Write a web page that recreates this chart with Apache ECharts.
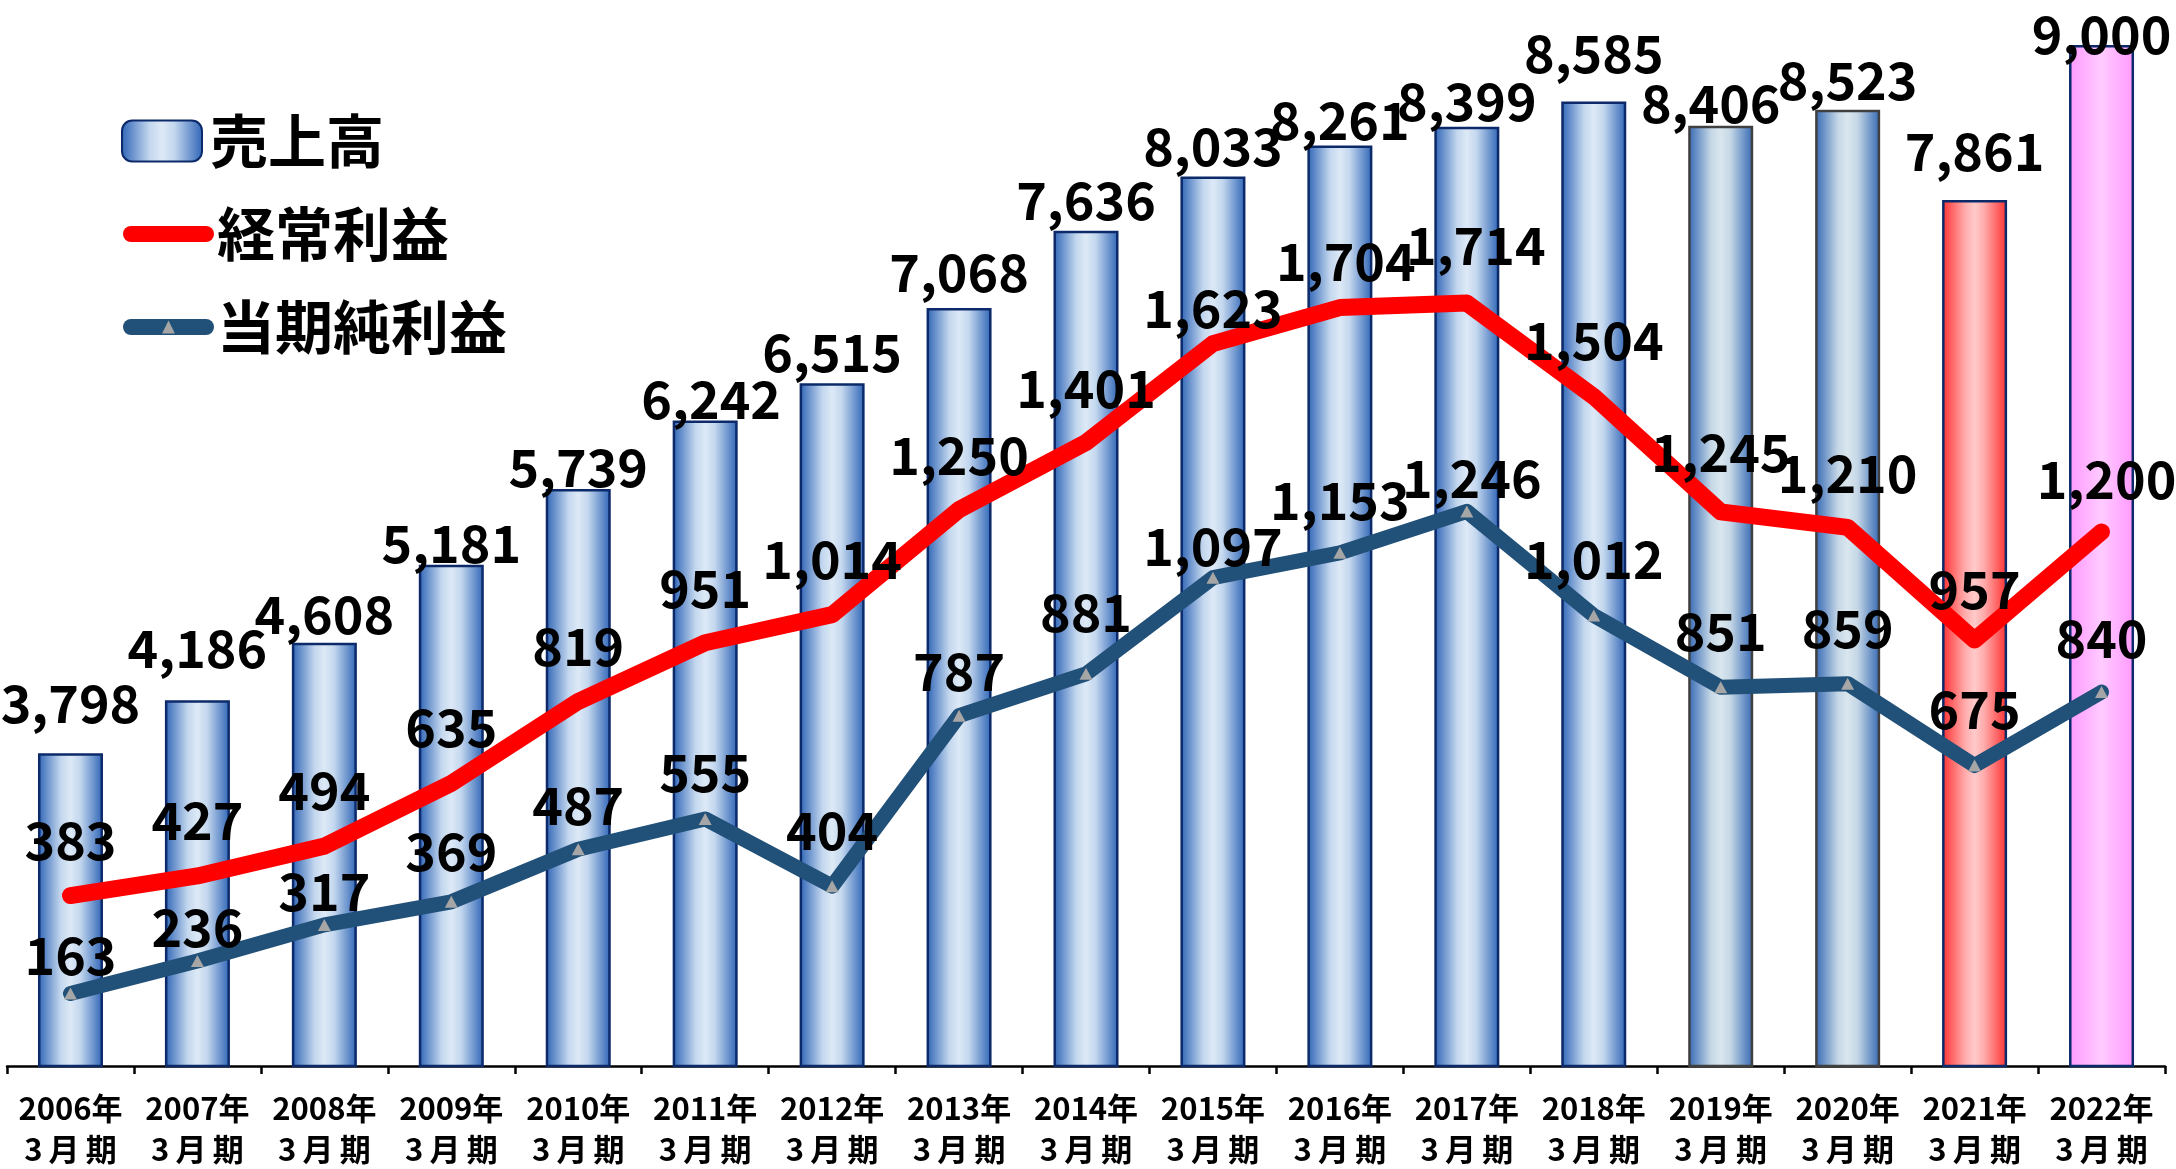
<!DOCTYPE html>
<html><head><meta charset="utf-8">
<script src="https://cdn.jsdelivr.net/npm/echarts@6/dist/echarts.min.js"></script>
<style>html,body{margin:0;padding:0;background:#fff}#c{width:2176px;height:1169px}</style>
</head><body><div id="c"></div>
<script>
// ---- data ----
const categories = ['2006年3月期','2007年3月期','2008年3月期','2009年3月期','2010年3月期','2011年3月期','2012年3月期','2013年3月期','2014年3月期','2015年3月期','2016年3月期','2017年3月期','2018年3月期','2019年3月期','2020年3月期','2021年3月期','2022年3月期'];
const seriesNames = ['売上高', '経常利益', '当期純利益'];
const sales = [3798, 4186, 4608, 5181, 5739, 6242, 6515, 7068, 7636, 8033, 8261, 8399, 8585, 8406, 8523, 7861, 9000];
const ordinaryProfit = [383, 427, 494, 635, 819, 951, 1014, 1250, 1401, 1623, 1704, 1714, 1504, 1245, 1210, 957, 1200];
const netProfit = [163, 236, 317, 369, 487, 555, 404, 787, 881, 1097, 1153, 1246, 1012, 851, 859, 675, 840];

// ---- label placement (distance of label centre above the mark, px) ----
const salesLabelLift = [50, 52, 29, 22, 22, 21, 31, 36, 30, 30, 25, 26, 48, 23, 30, 49, 11];
const salesLabelShift = [0, 0, 0, 0, 0, 6, 0, 0, 0, 0, 0, 0, 0, -10, 0, 0, 0];
const ordLabelLift = [55, 56, 56, 56, 55, 54, 55, 54, 54, 35, 46, 58, 56, 60, 54, 51, 53];
const ordLabelShift = [0, 0, 0, 0, 0, 0, 0, 0, 0, 0, 6, 9, 0, 0, 0, 0, 5];
const netLabelLift = [38, 34, 34, 51, 44, 47, 56, 44, 62, 31, 53, 33, 56, 56, 55, 56, 54];
const netLabelShift = [0, 0, 0, 0, 0, 0, 0, 0, 0, 0, 0, 5, 0, 0, 0, 0, 0];

const FONT = '"Noto Sans CJK JP", "Noto Sans", sans-serif';
const LBL = 52;
const fmt = v => Number(v).toLocaleString('en-US');

const grad = (a, b, c) => new echarts.graphic.LinearGradient(0, 0, 1, 0, [
  {offset: 0, color: a}, {offset: 0.35, color: b}, {offset: 0.5, color: c}, {offset: 0.65, color: b}, {offset: 1, color: a}
]);
const blueFill = grad('#2e64b6', '#c3d7ee', '#dde9f6');
const greyBlueFill = grad('#3468b4', '#c5d7e6', '#d9e6ee');
const redFill = grad('#ff3030', '#ffaaaa', '#ffcaca');
const pinkFill = grad('#ff99ff', '#ffbbff', '#ffccff');
const barSpecial = {13: {color: greyBlueFill, borderColor: '#404040'}, 14: {color: greyBlueFill, borderColor: '#404040'}, 15: {color: redFill}, 16: {color: pinkFill}};

const barData = sales.map((v, i) => ({
  value: v,
  itemStyle: barSpecial[i] || undefined,
  label: {offset: [salesLabelShift[i], -(salesLabelLift[i] - LBL / 2)]}
}));
const ordData = ordinaryProfit.map((v, i) => ({
  value: v,
  label: {offset: [ordLabelShift[i], -(ordLabelLift[i] - LBL / 2 - 1)]}
}));
const netData = netProfit.map((v, i) => ({
  value: v,
  label: {offset: [netLabelShift[i], -(netLabelLift[i] - LBL / 2 - 6)]}
}));

const labelStyle = {show: true, position: 'top', distance: 0, fontFamily: FONT, fontSize: LBL, lineHeight: LBL,
  fontWeight: 'bold', color: '#000', formatter: p => fmt(p.value)};

const chart = echarts.init(document.getElementById('c'), null, {renderer: 'canvas'});
chart.setOption({
  animation: false,
  backgroundColor: '#ffffff',
  grid: {left: 7, right: 11, top: 0, bottom: 103, containLabel: false, outerBoundsMode: 'none'},
  legend: [
    {data: [seriesNames[0]], orient: 'vertical', left: 121, top: 112, padding: 0, itemWidth: 80, itemHeight: 41,
      selectedMode: false,
      textStyle: {fontFamily: FONT, fontSize: 58, fontWeight: 'bold', color: '#000', lineHeight: 58, padding: [0, 0, 0, 3]}},
    {data: [seriesNames[1], seriesNames[2]], orient: 'vertical', left: 123, top: 205, padding: 0, itemWidth: 75, itemHeight: 16,
      itemGap: 35, selectedMode: false, lineStyle: {width: 16, cap: 'round'},
      textStyle: {fontFamily: FONT, fontSize: 58, fontWeight: 'bold', color: '#000', lineHeight: 58, padding: [0, 0, 0, 6]}}
  ],
  xAxis: {
    type: 'category', data: categories, boundaryGap: true,
    axisLine: {show: true, lineStyle: {color: '#000', width: 2.5}},
    axisTick: {show: true, length: 8, lineStyle: {color: '#000', width: 2.5}},
    splitLine: {show: false},
    axisLabel: {interval: 0, margin: 22, fontFamily: FONT, fontSize: 31, fontWeight: 'bold', color: '#000', lineHeight: 41,
      formatter: v => { const parts = v.split('年'); return parts[0] + '年\n' + parts[1].split('').join('\u2009'); }}
  },
  yAxis: [
    {type: 'value', min: 1500, max: 9330, show: false, splitLine: {show: false}},
    {type: 'value', min: 0, max: 2395, show: false, splitLine: {show: false}}
  ],
  series: [
    {name: seriesNames[0], type: 'bar', yAxisIndex: 0, barWidth: 65, data: barData, z: 2,
      itemStyle: {color: blueFill, borderColor: '#0c2a6a', borderWidth: 2.5},
      label: labelStyle},
    {name: seriesNames[1], type: 'line', yAxisIndex: 1, data: ordData, z: 3,
      symbol: 'circle', symbolSize: 2, showSymbol: true,
      lineStyle: {color: '#ff0000', width: 17, cap: 'round', join: 'round'},
      itemStyle: {color: '#ff0000'},
      label: labelStyle},
    {name: seriesNames[2], type: 'line', yAxisIndex: 1, data: netData, z: 4,
      symbol: 'triangle', symbolSize: [13, 12], showSymbol: true,
      lineStyle: {color: '#215078', width: 15, cap: 'round', join: 'round'},
      itemStyle: {color: '#a6a6a6'},
      label: labelStyle}
  ]
});
</script></body></html>
